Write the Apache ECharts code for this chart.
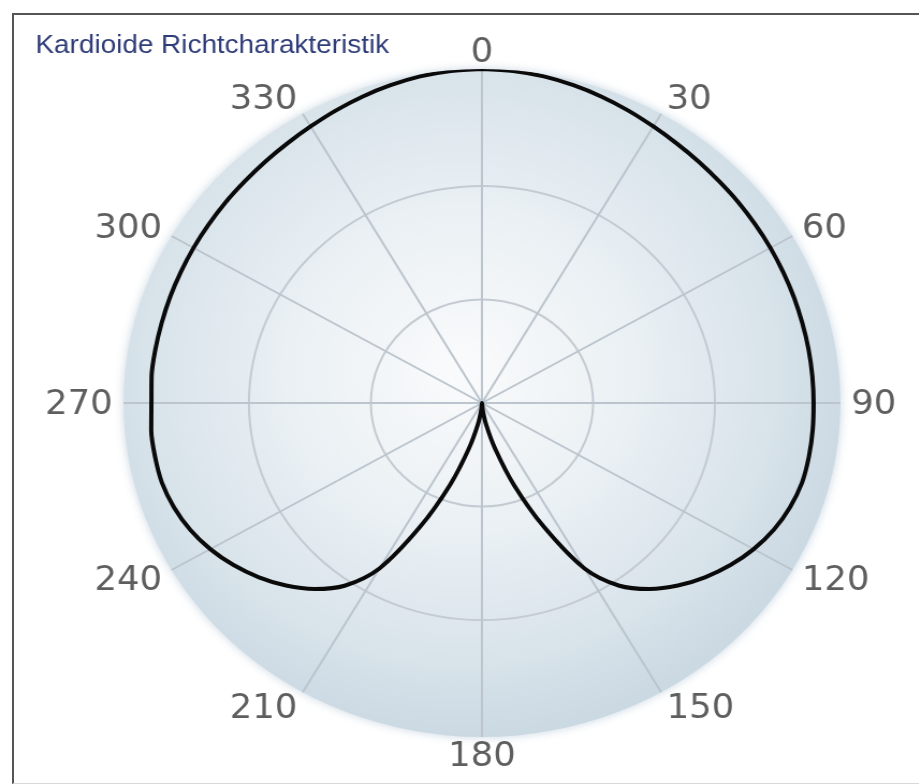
<!DOCTYPE html>
<html>
<head>
<meta charset="utf-8">
<script src="https://cdn.jsdelivr.net/npm/echarts@6/dist/echarts.min.js"></script>
<style>
html,body{margin:0;padding:0;background:#fff;width:919px;height:784px;overflow:hidden;}
#frame{position:absolute;left:12px;top:13px;width:920px;height:768px;border-left:2px solid #555;border-top:2px solid #555;border-bottom:1px solid #d8d8d8;}
#chart{position:absolute;left:0;top:0;width:856px;height:784px;transform:scaleX(1.0734);transform-origin:0 0;}
</style>
</head>
<body>
<div id="frame"></div>
<div id="chart"></div>
<script>
// Chart data
const titleText = 'Kardioide Richtcharakteristik';
const angleTicks = [0, 30, 60, 90, 120, 150, 180, 210, 240, 270, 300, 330];
const ringValues = [0.31, 0.65];
const curveAngles = [
  0, 5, 10, 15, 20, 25, 30, 35, 40, 45, 50, 55, 60, 65, 70, 75, 80, 85,
  90, 95, 100, 105, 110, 115, 120, 125, 130, 135, 140, 145, 150, 155, 160, 165, 170, 175,
  180, 185, 190, 195, 200, 205, 210, 215, 220, 225, 230, 235, 240, 245, 250, 255, 260, 265,
  270, 275, 280, 285, 290, 295, 300, 305, 310, 315, 320, 325, 330, 335, 340, 345, 350, 355, 360];
const curveValues = [
  1.000, 0.998, 0.993, 0.985, 0.976, 0.966, 0.956, 0.948, 0.942, 0.937, 0.934, 0.931, 0.929, 0.927, 0.926, 0.925, 0.925, 0.925,
  0.925, 0.926, 0.926, 0.924, 0.914, 0.898, 0.875, 0.846, 0.812, 0.773, 0.727, 0.668, 0.572, 0.410, 0.262, 0.142, 0.064, 0.018,
  0.000, 0.018, 0.064, 0.142, 0.262, 0.410, 0.572, 0.668, 0.727, 0.773, 0.812, 0.846, 0.875, 0.898, 0.914, 0.924, 0.926, 0.926,
  0.922, 0.925, 0.925, 0.925, 0.926, 0.927, 0.929, 0.931, 0.934, 0.937, 0.942, 0.948, 0.956, 0.966, 0.976, 0.985, 0.993, 0.998, 1.000];

const CX = 449, CY = 403, R = 334;
const LABEL_R = 1.03;
const LABEL_LIFT = 8;
const LABEL_DROP = 2;
const FONT = '"Liberation Sans", Arial, Helvetica, sans-serif';
const LABEL_FONT = '"DejaVu Sans", Verdana, sans-serif';

function labelAlign(a) {
  const s = Math.sin(a * Math.PI / 180);
  return Math.abs(s) < 0.3 ? 'center' : (s > 0 ? 'left' : 'right');
}
function labelOffset(a) {
  return [0, LABEL_DROP - LABEL_LIFT * Math.cos(a * Math.PI / 180)];
}

const chart = echarts.init(document.getElementById('chart'), null, {renderer: 'canvas'});
chart.setOption({
  animation: false,
  title: {
    text: titleText,
    left: 28, top: 28,
    textStyle: {color: '#2f3c78', fontSize: 26, fontWeight: 'normal', fontFamily: FONT}
  },
  polar: {center: [CX, CY], radius: R},
  angleAxis: {
    type: 'value', min: 0, max: 360, interval: 30, startAngle: 90, clockwise: true, z: 5,
    axisLine: {show: false}, axisTick: {show: false}, axisLabel: {show: false},
    splitLine: {show: true, lineStyle: {color: '#bcc5ce', width: 2}}
  },
  radiusAxis: {
    type: 'value', min: 0, max: 1, z: 5,
    axisLine: {show: false}, axisLabel: {show: false},
    axisTick: {show: false, customValues: ringValues},
    splitLine: {show: true, lineStyle: {color: '#c4cbd2', width: 2}}
  },
  series: [
    {
      type: 'pie', silent: true, z: 1, center: [CX, CY], radius: [0, R],
      label: {show: false}, labelLine: {show: false},
      itemStyle: {
        color: new echarts.graphic.RadialGradient(0.47, 0.45, 0.55, [
          {offset: 0, color: '#fafbfc'},
          {offset: 0.45, color: '#eaf0f4'},
          {offset: 0.8, color: '#d8e3ea'},
          {offset: 1, color: '#cbd9e3'}
        ]),
        shadowBlur: 10, shadowColor: 'rgba(190,206,220,0.8)'
      },
      data: [{value: 1}]
    },
    {
      type: 'line', coordinateSystem: 'polar', z: 10, smooth: 0.3, showSymbol: false, symbol: 'none',
      lineStyle: {color: '#0a0a0a', width: 4},
      data: curveAngles.map((a, i) => [curveValues[i], a])
    },
    {
      type: 'scatter', coordinateSystem: 'polar', clip: false, silent: true, z: 10,
      symbolSize: 0,
      label: {
        show: true, position: 'inside', color: '#363636', fontSize: 33, fontFamily: LABEL_FONT,
        verticalAlign: 'middle',
        formatter: p => String(p.value[1])
      },
      data: angleTicks.map(a => ({value: [LABEL_R, a], label: {align: labelAlign(a), offset: labelOffset(a)}}))
    }
  ]
});
</script>
</body>
</html>
